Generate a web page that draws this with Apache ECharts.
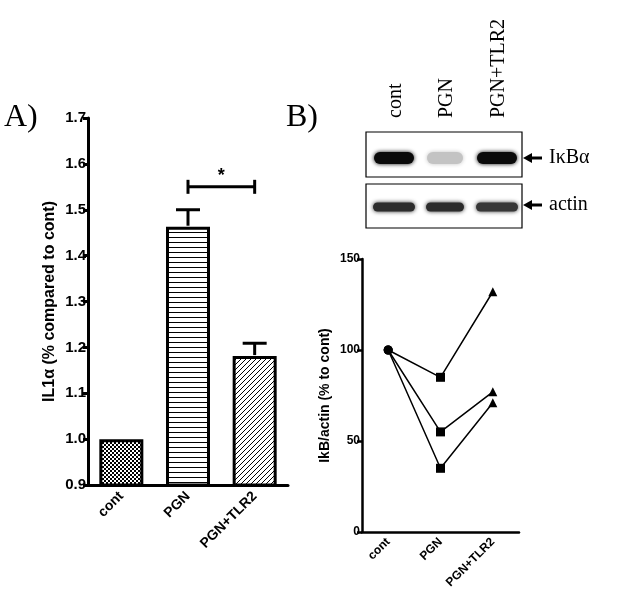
<!DOCTYPE html>
<html>
<head>
<meta charset="utf-8">
<script src="https://cdn.jsdelivr.net/npm/echarts@6/dist/echarts.min.js"></script>
<style>
html,body{margin:0;padding:0;background:#fff;}
#chart{width:632px;height:614px;}
</style>
</head>
<body>
<div id="chart"></div>
<script>
// ---- Data ----
const categories = ['cont', 'PGN', 'PGN+TLR2'];
// Panel A: IL1α relative to cont
const il1Mean = [1.00, 1.463, 1.181];
const il1Upper = [null, 1.50, 1.209];
const il1Ticks = ['0.9', '1.0', '1.1', '1.2', '1.3', '1.4', '1.5', '1.6', '1.7'];
const sigPair = [1, 2];      // categories compared
const sigLevel = [1.55];     // height of significance bracket
// Panel B: IkB/actin (% to cont), three experiments
const expt1 = [100, 85, 132];
const expt2 = [100, 55, 77];
const expt3 = [100, 35, 71];
const pointSymbols = ['circle', 'rect', 'triangle'];
// Western blot band intensities (0..1) per lane
const ikbBand = [1.0, 0.18, 1.0];
const actinBand = [0.85, 0.85, 0.8];
const blotLanes = ['cont', 'PGN', 'PGN+TLR2'];

// ---- Patterns ----
function makePattern(kind) {
  const c = document.createElement('canvas');
  const ctx = c.getContext('2d');
  if (kind === 'check') {
    c.width = 4; c.height = 4;
    ctx.fillStyle = '#fff'; ctx.fillRect(0, 0, 4, 4);
    ctx.fillStyle = '#000';
    ctx.fillRect(0, 0, 2, 2); ctx.fillRect(2, 2, 2, 2);
  } else if (kind === 'hlines') {
    c.width = 5; c.height = 5;
    ctx.fillStyle = '#fff'; ctx.fillRect(0, 0, 5, 5);
    ctx.fillStyle = '#000'; ctx.fillRect(0, 2, 5, 1);
  } else {
    c.width = 5; c.height = 5;
    ctx.fillStyle = '#fff'; ctx.fillRect(0, 0, 5, 5);
    ctx.fillStyle = '#000';
    for (let i = 0; i < 5; i++) { ctx.fillRect(4 - i, i, 1, 1); }
  }
  return { image: c, repeat: 'repeat' };
}
const patterns = [makePattern('check'), makePattern('hlines'), makePattern('diag')];

const sans = 'Liberation Sans';
const serif = 'Liberation Serif';

const chart = echarts.init(document.getElementById('chart'), null, { renderer: 'canvas' });

// Blot graphics
const blot = [];
const box = { x: 366, w: 156 };
const laneX = [394, 445, 497];
const laneW = [40, 36, 40];
blot.push({ type: 'rect', shape: { x: box.x, y: 132, width: box.w, height: 45 }, style: { fill: '#fff', stroke: '#000', lineWidth: 1.2 } });
blot.push({ type: 'rect', shape: { x: box.x, y: 184, width: box.w, height: 44 }, style: { fill: '#fff', stroke: '#000', lineWidth: 1.2 } });
function band(cx, cy, w, h, intensity) {
  const g = Math.round(235 - intensity * 225);
  const col = 'rgb(' + g + ',' + g + ',' + g + ')';
  return { type: 'rect', shape: { x: cx - w / 2, y: cy - h / 2, width: w, height: h, r: h / 2 },
    style: { fill: col, shadowBlur: 4, shadowColor: col } };
}
ikbBand.forEach((v, i) => blot.push(band(laneX[i], 158, laneW[i], 12, v)));
actinBand.forEach((v, i) => blot.push(band(laneX[i], 207, laneW[i] + 2, 9, v)));
blotLanes.forEach((t, i) => blot.push({ type: 'text', x: laneX[i] + 12, y: 118, rotation: Math.PI / 2,
  style: { text: t, font: '20px "' + serif + '"', fill: '#000', align: 'left', verticalAlign: 'bottom' } }));
// arrows + labels
[158, 205].forEach((y, i) => {
  blot.push({ type: 'polygon', shape: { points: [[523, y], [532, y - 5], [532, y + 5]] }, style: { fill: '#000' } });
  blot.push({ type: 'line', shape: { x1: 530, y1: y, x2: 542, y2: y }, style: { stroke: '#000', lineWidth: 3 } });
  blot.push({ type: 'text', x: 549, y: y, style: { text: i === 0 ? 'IκBα' : 'actin', font: '20px "' + serif + '"', fill: '#000', verticalAlign: 'middle' } });
});
blot.push({ type: 'text', x: 4, y: 118, style: { text: 'A)', font: '32px "' + serif + '"', fill: '#000', verticalAlign: 'middle' } });
blot.push({ type: 'text', x: 286, y: 118, style: { text: 'B)', font: '32px "' + serif + '"', fill: '#000', verticalAlign: 'middle' } });

const option = {
  animation: false,
  backgroundColor: '#fff',
  graphic: blot,
  grid: [
    { left: 88, top: 118, width: 200, height: 367 },
    { left: 362, top: 259, width: 157, height: 273 }
  ],
  xAxis: [
    { gridIndex: 0, type: 'category', data: categories,
      axisLine: { lineStyle: { color: '#000', width: 3 } },
      axisTick: { alignWithLabel: true, length: 6, lineStyle: { width: 3, color: '#000' } },
      axisLabel: { rotate: 45, color: '#000', fontFamily: sans, fontWeight: 'bold', fontSize: 14, margin: 9 } },
    { gridIndex: 1, type: 'category', data: categories,
      axisLine: { lineStyle: { color: '#000', width: 2.5 } },
      axisTick: { alignWithLabel: true, length: 5, lineStyle: { width: 2.5, color: '#000' } },
      axisLabel: { rotate: 45, color: '#000', fontFamily: sans, fontWeight: 'bold', fontSize: 12, margin: 8 } }
  ],
  yAxis: [
    { gridIndex: 0, type: 'value', min: 0.9, max: 1.7, interval: 0.1,
      name: 'IL1α (% compared to cont)', nameLocation: 'middle', nameGap: 30, nameRotate: 90,
      nameTextStyle: { color: '#000', fontFamily: sans, fontWeight: 'bold', fontSize: 16 },
      axisLine: { show: true, lineStyle: { color: '#000', width: 3 } },
      axisTick: { show: true, length: 5, lineStyle: { width: 3, color: '#000' } },
      splitLine: { show: false },
      axisLabel: { color: '#000', fontFamily: sans, fontWeight: 'bold', fontSize: 15, margin: 2,
        formatter: (v) => il1Ticks[Math.round((v - 0.9) * 10)] } },
    { gridIndex: 1, type: 'value', min: 0, max: 150, interval: 50,
      name: 'IkB/actin (% to cont)', nameLocation: 'middle', nameGap: 30, nameRotate: 90,
      nameTextStyle: { color: '#000', fontFamily: sans, fontWeight: 'bold', fontSize: 14 },
      axisLine: { show: true, lineStyle: { color: '#000', width: 2.5 } },
      axisTick: { show: true, length: 5, lineStyle: { width: 2.5, color: '#000' } },
      splitLine: { show: false },
      axisLabel: { color: '#000', fontFamily: sans, fontWeight: 'bold', fontSize: 12, margin: 2 } }
  ],
  series: [
    { type: 'bar', xAxisIndex: 0, yAxisIndex: 0, barWidth: 44,
      data: il1Mean.map((v, i) => ({ value: v, itemStyle: { color: patterns[i] } })),
      itemStyle: { borderColor: '#000', borderWidth: 3 } },
    { type: 'custom', xAxisIndex: 0, yAxisIndex: 0, z: 3,
      data: il1Mean.map((m, i) => [i, m, il1Upper[i]]).filter(d => d[2] != null),
      renderItem: (params, api) => {
        const base = api.coord([api.value(0), api.value(1)]);
        const top = api.coord([api.value(0), api.value(2)]);
        const st = { stroke: '#000', lineWidth: 3 };
        return { type: 'group', children: [
          { type: 'line', shape: { x1: base[0], y1: base[1] - 1, x2: top[0], y2: top[1] }, style: st },
          { type: 'line', shape: { x1: top[0] - 12, y1: top[1], x2: top[0] + 12, y2: top[1] }, style: st }
        ] };
      } },
    { type: 'custom', xAxisIndex: 0, yAxisIndex: 0, z: 3,
      data: [[sigPair[0], sigPair[1], sigLevel[0]]],
      renderItem: (params, api) => {
        const a = api.coord([api.value(0), api.value(2)]);
        const b = api.coord([api.value(1), api.value(2)]);
        const st = { stroke: '#000', lineWidth: 3 };
        return { type: 'group', children: [
          { type: 'line', shape: { x1: a[0], y1: a[1], x2: b[0], y2: b[1] }, style: st },
          { type: 'line', shape: { x1: a[0], y1: a[1] - 7, x2: a[0], y2: a[1] + 7 }, style: st },
          { type: 'line', shape: { x1: b[0], y1: b[1] - 7, x2: b[0], y2: b[1] + 7 }, style: st },
          { type: 'text', x: (a[0] + b[0]) / 2, y: a[1] - 2,
            style: { text: '*', font: 'bold 18px "' + sans + '"', fill: '#000', align: 'center', verticalAlign: 'bottom' } }
        ] };
      } }
  ].concat([expt1, expt2, expt3].map(d => ({
    type: 'line', xAxisIndex: 1, yAxisIndex: 1, data: d,
    symbol: (v, p) => pointSymbols[p.dataIndex], symbolSize: 9,
    lineStyle: { color: '#000', width: 1.5 }, itemStyle: { color: '#000' }
  })))
};
chart.setOption(option);
</script>
</body>
</html>
